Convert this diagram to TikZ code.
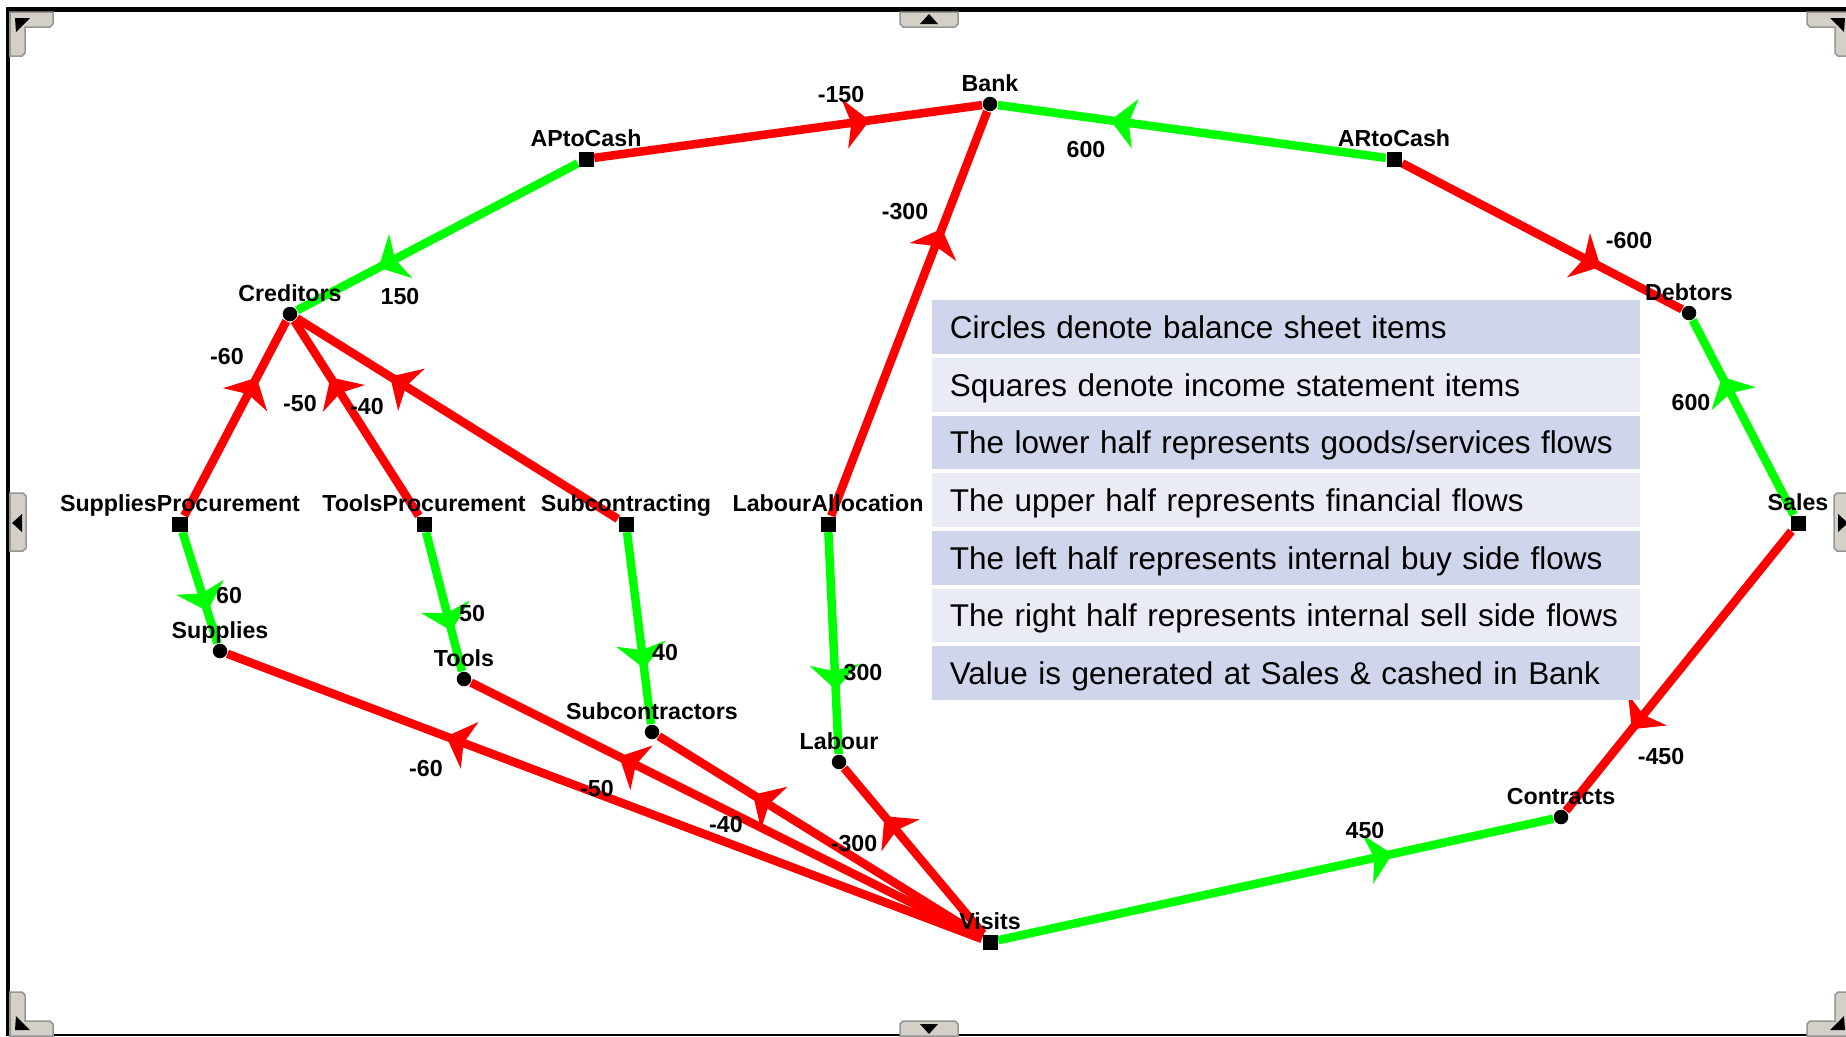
\documentclass[tikz,border=0pt]{standalone}
\usepackage{fontspec}
\setmainfont{Liberation Sans}
\usetikzlibrary{arrows.meta,decorations.markings}

\pgfdeclarelayer{bg}
\pgfdeclarelayer{links}
\pgfsetlayers{bg,links,main}

\definecolor{flowred}{RGB}{255,0,0}
\definecolor{flowgreen}{RGB}{0,255,0}
\definecolor{rowdark}{RGB}{207,213,234}
\definecolor{rowlight}{RGB}{233,235,245}
\definecolor{tabfill}{RGB}{212,208,200}
\definecolor{tabline}{RGB}{150,150,150}
\definecolor{baseline}{RGB}{170,170,170}

\tikzset{
  x=0.01cm, y=-0.01cm,
  every label/.style={font=\bfseries\fontsize{6.6pt}{7pt}\selectfont,
    inner sep=0pt, text height=0.17cm, text depth=0.04cm},
  bsitem/.style={circle, fill=black, inner sep=0pt, minimum size=0.145cm,
    label distance=0.025cm},
  isitem/.style={rectangle, fill=black, inner sep=0pt, minimum size=0.15cm,
    label distance=0.02cm},
  amount/.style={font=\bfseries\fontsize{6.6pt}{7pt}\selectfont, inner sep=0pt},
  redflow/.style={draw=flowred, line width=0.085cm, postaction={decorate},
    decoration={markings, mark=at position 0.71 with {\arrow[flowred]{Stealth[length=0.25cm, width=0.5cm, inset=0.065cm, line width=0pt]}}}},
  greenflow/.style={draw=flowgreen, line width=0.085cm, postaction={decorate},
    decoration={markings, mark=at position 0.71 with {\arrow[flowgreen]{Stealth[length=0.25cm, width=0.5cm, inset=0.065cm, line width=0pt]}}}},
  legendrow/.style={rectangle, inner xsep=0.18cm, inner ysep=0pt,
    minimum width=7.08cm, minimum height=0.537cm, text width=6.72cm, align=left,
    text height=0.228cm, text depth=0cm, font=\fontsize{8.95pt}{10pt}\selectfont},
  tabshape/.style={fill=tabfill, draw=tabline, line width=0.015cm},
}

% L-shaped corner handle (top-left orientation)
\newcommand\cornertab{%
  \path[tabshape] (10,12) -- (53,12) -- (53,24) -- (50,27) -- (25,27) -- (25,53)
    -- (22,56) -- (10,56) -- cycle;
  \fill[black] (15,18) -- (30,18) -- (16,32) -- cycle;
}

\begin{document}
\begin{tikzpicture}
\useasboundingbox (0,0) rectangle (1846,1036);
\begin{pgfonlayer}{bg}
  \fill[white] (0,0) rectangle (1846,1036);
\end{pgfonlayer}

% window frame
\fill[black] (6,7) rectangle (1846,11.5);
\fill[black] (6,7) rectangle (10,1036);
\fill[baseline] (10,1034) rectangle (1846,1036);

% corner handles
\cornertab
\begin{scope}[shift={(1860,0)}, xscale=-1]\cornertab\end{scope}
\begin{scope}[shift={(0,1048)}, yscale=-1]\cornertab\end{scope}
\begin{scope}[shift={(1860,1048)}, xscale=-1, yscale=-1]\cornertab\end{scope}

% edge handles
\path[tabshape] (900,12) -- (958,12) -- (958,24) -- (955,27) -- (903,27) -- (900,24) -- cycle;
\fill[black] (920,24) -- (938,24) -- (929,14) -- cycle;
\path[tabshape] (900,1036) -- (958,1036) -- (958,1024) -- (955,1021) -- (903,1021) -- (900,1024) -- cycle;
\fill[black] (920,1024) -- (938,1024) -- (929,1034) -- cycle;
\path[tabshape] (10,493) -- (23,493) -- (26,496) -- (26,548) -- (23,551) -- (10,551) -- cycle;
\fill[black] (12,523) -- (22,514) -- (22,532) -- cycle;
\path[tabshape] (1850,493) -- (1837,493) -- (1834,496) -- (1834,548) -- (1837,551) -- (1850,551) -- cycle;
\fill[black] (1848,523) -- (1838,514) -- (1838,532) -- cycle;

% balance sheet items (circles) and income statement items (squares)
\node[bsitem, label=above:Bank] (Bank) at (990,104) {};
\node[isitem, label=above:APtoCash] (APtoCash) at (586,159) {};
\node[isitem, label=above:ARtoCash] (ARtoCash) at (1394,159) {};
\node[bsitem, label=above:Creditors] (Creditors) at (290,314) {};
\node[bsitem, label=above:Debtors] (Debtors) at (1689,313) {};
\node[isitem, label=above:SuppliesProcurement] (SupProc) at (180,524) {};
\node[isitem, label=above:ToolsProcurement] (ToolProc) at (424,524) {};
\node[isitem, label=above:Subcontracting] (SubProc) at (626,524) {};
\node[isitem, label=above:LabourAllocation] (LabAlloc) at (828,524) {};
\node[isitem, label=above:Sales] (Sales) at (1798,523) {};
\node[bsitem, label=above:Supplies] (Supplies) at (220,651) {};
\node[bsitem, label=above:Tools] (Tools) at (464,679) {};
\node[bsitem, label=above:Subcontractors] (Subcon) at (652,732) {};
\node[bsitem, label=above:Labour] (Labour) at (839,762) {};
\node[isitem, label=above:Visits] (Visits) at (990,942) {};
\node[bsitem, label=above:Contracts] (Contracts) at (1561,817) {};

% flows
\begin{pgfonlayer}{links}
  \draw[redflow] (APtoCash) -- (Bank);
  \draw[greenflow] (ARtoCash) -- (Bank);
  \draw[redflow] (LabAlloc) -- (Bank);
  \draw[greenflow] (APtoCash) -- (Creditors);
  \draw[redflow] (ARtoCash) -- (Debtors);
  \draw[redflow] (SupProc) -- (Creditors);
  \draw[redflow] (ToolProc) -- (Creditors);
  \draw[redflow] (SubProc) -- (Creditors);
  \draw[greenflow] (Sales) -- (Debtors);
  \draw[greenflow] (SupProc) -- (Supplies);
  \draw[greenflow] (ToolProc) -- (Tools);
  \draw[greenflow] (SubProc) -- (Subcon);
  \draw[greenflow] (LabAlloc) -- (Labour);
  \draw[redflow] (Visits) -- (Supplies);
  \draw[redflow] (Visits) -- (Tools);
  \draw[redflow] (Visits) -- (Subcon);
  \draw[redflow] (Visits) -- (Labour);
  \draw[greenflow] (Visits) -- (Contracts);
  \draw[redflow] (Sales) -- (Contracts);
\end{pgfonlayer}

% flow amounts
\node[amount] (a-ap-bank) at (841,95) {-150};
\node[amount] (a-ar-bank) at (1086,150) {600};
\node[amount] (a-la-bank) at (905,212) {-300};
\node[amount] (a-ap-cred) at (400,296) {150};
\node[amount] (a-ar-debt) at (1629,241) {-600};
\node[amount] (a-sp-cred) at (227,356) {-60};
\node[amount] (a-tp-cred) at (300,403) {-50};
\node[amount] (a-sc-cred) at (367,406) {-40};
\node[amount] (a-sa-debt) at (1691,402) {600};
\node[amount] (a-sp-sup) at (229,595) {60};
\node[amount] (a-tp-tool) at (472,613) {50};
\node[amount] (a-sc-sub) at (665,652) {40};
\node[amount] (a-la-lab) at (863,673) {300};
\node[amount] (a-vi-sup) at (426,768) {-60};
\node[amount] (a-vi-tool) at (597,788) {-50};
\node[amount] (a-vi-sub) at (726,824) {-40};
\node[amount] (a-vi-lab) at (854,844) {-300};
\node[amount] (a-vi-con) at (1365,830) {450};
\node[amount] (a-sa-con) at (1661,756) {-450};

% legend table
\node[legendrow, fill=rowdark]  (row1) at (1286,327.0) {Circles denote balance sheet items};
\node[legendrow, fill=rowlight] (row2) at (1286,384.7) {Squares denote income statement items};
\node[legendrow, fill=rowdark]  (row3) at (1286,442.4) {The lower half represents goods/services flows};
\node[legendrow, fill=rowlight] (row4) at (1286,500.1) {The upper half represents financial flows};
\node[legendrow, fill=rowdark]  (row5) at (1286,557.8) {The left half represents internal buy side flows};
\node[legendrow, fill=rowlight] (row6) at (1286,615.5) {The right half represents internal sell side flows};
\node[legendrow, fill=rowdark]  (row7) at (1286,673.2) {Value is generated at Sales \& cashed in Bank};
\end{tikzpicture}
\end{document}
